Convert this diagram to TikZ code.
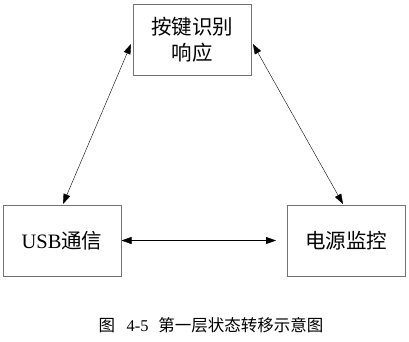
\documentclass[tikz,border=0pt]{standalone}
\usepackage{fontspec}
\setmainfont{Liberation Serif}
\newfontfamily\cjk{Noto Sans CJK SC}
\usetikzlibrary{arrows.meta}
\begin{document}
\begin{tikzpicture}[x=1pt,y=-1pt,
  box/.style={draw=black!55,line width=0.6pt,minimum width=118pt,minimum height=71pt,inner sep=0pt,align=center,font=\fontsize{20.5}{26}\selectfont},
  link/.style={line width=0.4pt,{Triangle[length=10pt,width=7pt]}-{Triangle[length=10pt,width=7pt]}}]
\useasboundingbox (0,0) rectangle (409,341);
\node[box] (k) at (192,40) {\cjk 按键识别\\\cjk 响应};
\node[box] (u) at (62,240.5) {USB{\cjk 通信}};
\node[box] (p) at (346,240.5) {\cjk 电源监控};
\coordinate (kl) at (131,44);
\coordinate (kr) at (253,44);
\coordinate (ut) at (63,204);
\coordinate (pt) at (343,204);
\coordinate (ur) at (121.5,240.5);
\coordinate (pl) at (276,240.5);
\draw[link] (ut) -- (kl);
\draw[link] (kr) -- (pt);
\draw[link] (ur) -- (pl);
\node[font=\fontsize{16.5}{20}\selectfont] (cap) at (211,325) {{\cjk 图}\hspace{0.7em}4-5\hspace{0.6em}{\cjk 第一层状态转移示意图}};
\end{tikzpicture}
\end{document}
